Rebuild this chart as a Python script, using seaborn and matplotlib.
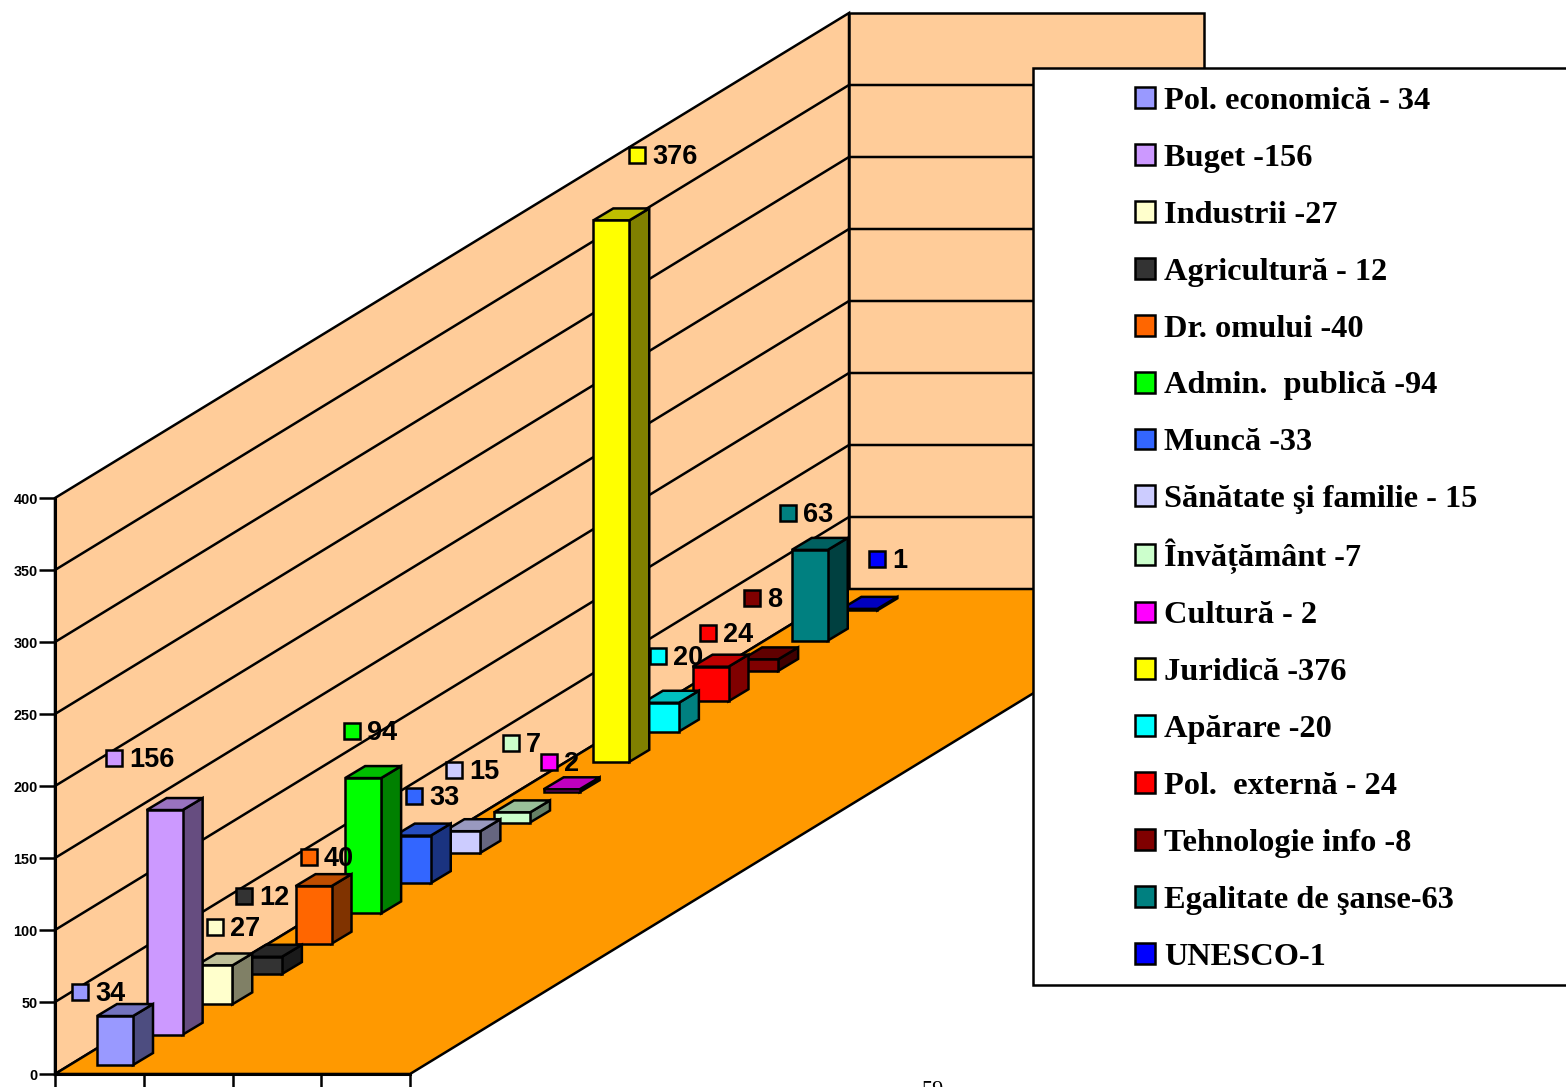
import matplotlib
matplotlib.use("Agg")
import matplotlib.pyplot as plt
from matplotlib.patches import Polygon, Patch, Rectangle
from matplotlib.colors import to_rgb
from matplotlib.transforms import ScaledTranslation
import numpy as np
import pandas as pd
import seaborn as sns

# ---- data ----
categories = ["Pol. economică", "Buget", "Industrii", "Agricultură", "Dr. omului", "Admin. publică",
              "Muncă", "Sănătate şi familie", "Învățământ", "Cultură", "Juridică", "Apărare",
              "Pol. externă", "Tehnologie info", "Egalitate de şanse", "UNESCO"]
values = [34, 156, 27, 12, 40, 94, 33, 15, 7, 2, 376, 20, 24, 8, 63, 1]
legend_labels = ["Pol. economică - 34", "Buget -156", "Industrii -27", "Agricultură - 12", "Dr. omului -40",
                 "Admin.  publică -94", "Muncă -33", "Sănătate şi familie - 15", "Învățământ -7", "Cultură - 2",
                 "Juridică -376", "Apărare -20", "Pol.  externă - 24", "Tehnologie info -8",
                 "Egalitate de şanse-63", "UNESCO-1"]
colors = ["#9999FF", "#CC99FF", "#FFFFCC", "#333333", "#FF6600", "#00FF00", "#3366FF", "#CCCCFF",
          "#CCFFCC", "#FF00FF", "#FFFF00", "#00FFFF", "#FF0000", "#800000", "#008080", "#0000FF"]
y_ticks = [0, 50, 100, 150, 200, 250, 300, 350, 400]

# ---- layout (pixels of the 1566x1087 canvas) ----
W, H = 1566, 1087
PX_PER_UNIT = 1.44
Y0 = 1074
X0 = 55
FLOOR_W = 355
DEPTH_X, DEPTH_Y = 794, 485
N = len(values)
BAR_W = 36
BAR_DX, BAR_DY = 20, 12
marker_xy = [(80, 992), (114, 758), (215, 927), (244, 896), (309, 857), (352, 731), (414, 796), (454, 770),
             (511, 743), (549, 762), (637, 155), (658, 656), (708, 633), (752, 598), (788, 513), (877, 559)]
LW = 1.8


def vy(py):
    return (Y0 - py) / PX_PER_UNIT


sns.set_theme(style="white")
plt.rcParams["font.family"] = ["Liberation Sans", "DejaVu Sans"]

fig = plt.figure(figsize=(W / 100, H / 100), dpi=100, facecolor="white")
ax = fig.add_axes([X0 / W, (H - Y0) / H, (W - X0) / W, Y0 / H])
ax.patch.set_alpha(0)

# bars: front faces through seaborn, positions follow the chart's depth axis
step_x, step_y = DEPTH_X / N, DEPTH_Y / N
pos = [X0 + 42 + BAR_W / 2 + i * step_x for i in range(N)]
base = [vy(1065 - i * step_y) for i in range(N)]
df = pd.DataFrame({"pos": pos, "val": values, "cat": categories})
sns.barplot(data=df, x="pos", y="val", hue="cat", hue_order=categories, palette=colors, dodge=False,
            native_scale=True, width=BAR_W / step_x, saturation=1, errorbar=None, legend=False,
            edgecolor="black", linewidth=LW, ax=ax)

ax.set_xlim(X0, W)
ax.set_ylim(0, vy(0))

dx, dy = BAR_DX, BAR_DY / PX_PER_UNIT
for i, cont in enumerate(ax.containers):
    z = 40 - i
    rgb = np.array(to_rgb(colors[i]))
    for p in cont.patches:
        p.set_y(base[i])
        p.set_zorder(z + 0.2)
        p.set_clip_on(False)
        p.set_joinstyle("miter")
        l, r, b = p.get_x(), p.get_x() + p.get_width(), base[i]
        t = b + p.get_height()
        ax.add_patch(Polygon([(r, b), (r + dx, b + dy), (r + dx, t + dy), (r, t)], closed=True,
                             fc=rgb * 0.5, ec="black", lw=LW, zorder=z, clip_on=False))
        ax.add_patch(Polygon([(l, t), (r, t), (r + dx, t + dy), (l + dx, t + dy)], closed=True,
                             fc=rgb * 0.75, ec="black", lw=LW, zorder=z + 0.1, clip_on=False))

# walls and floor
dep_y = DEPTH_Y / PX_PER_UNIT
top = y_ticks[-1]
ax.add_patch(Polygon([(X0, 0), (X0 + DEPTH_X, dep_y), (X0 + DEPTH_X, top + dep_y), (X0, top)], closed=True,
                     fc="#FFCC99", ec="black", lw=LW, zorder=1, clip_on=False))
ax.add_patch(Polygon([(X0 + DEPTH_X, dep_y), (X0 + DEPTH_X + FLOOR_W, dep_y), (X0 + DEPTH_X + FLOOR_W, top + dep_y),
                      (X0 + DEPTH_X, top + dep_y)], closed=True, fc="#FFCC99", ec="black", lw=LW, zorder=1,
                     clip_on=False))
for v in y_ticks[1:-1]:
    ax.plot([X0, X0 + DEPTH_X, X0 + DEPTH_X + FLOOR_W], [v, v + dep_y, v + dep_y], color="black", lw=LW,
            zorder=2, clip_on=False)
ax.add_patch(Polygon([(X0, 0), (X0 + FLOOR_W, 0), (X0 + FLOOR_W + DEPTH_X, dep_y), (X0 + DEPTH_X, dep_y)],
                     closed=True, fc="#FF9900", ec="black", lw=LW, zorder=3, clip_on=False))

# real axes
for s in ["top", "right"]:
    ax.spines[s].set_visible(False)
ax.spines["left"].set_bounds(0, top)
ax.spines["bottom"].set_bounds(X0, X0 + FLOOR_W)
for s in ["left", "bottom"]:
    ax.spines[s].set_linewidth(2.2)
    ax.spines[s].set_color("black")
    ax.spines[s].set_zorder(5)
ax.set_yticks(y_ticks)
ax.set_yticklabels([str(v) for v in y_ticks], fontsize=10.4, fontweight="bold", color="black")
nudge = ScaledTranslation(0, 1 / 100, fig.dpi_scale_trans)
for t in ax.get_yticklabels():
    t.set_verticalalignment("center_baseline")
    t.set_transform(t.get_transform() + nudge)
ax.set_xticks([X0 + FLOOR_W * k / 4 for k in range(5)])
ax.set_xticklabels([])
ax.set_xlabel("")
ax.set_ylabel("")
ax.tick_params(axis="y", length=11.5, width=LW, color="black", left=True, pad=1)
ax.tick_params(axis="x", length=11.5, width=LW, color="black", bottom=True)

# data labels (square key + value)
for i, (mx, my) in enumerate(marker_xy):
    ax.plot([mx], [vy(my)], marker="s", ms=11.2, mfc=colors[i], mec="black", mew=LW, zorder=60, clip_on=False)
    ax.annotate(str(values[i]), (mx, vy(my)), xytext=(mx + 15, vy(my + 2)), textcoords="data", fontsize=19.5,
                fontweight="bold", color="black", va="center", ha="left", zorder=61)

# legend: two stacked blocks, so the tall "Î" row keeps the same row pitch
ax.add_patch(Rectangle((1033, vy(985)), 700, vy(68) - vy(985), fc="white", ec="black", lw=LW, zorder=80,
                       clip_on=False))
handles = [Patch(fc=c, ec="black", lw=LW) for c in colors]
FS = 23.3
SPLIT = 8


def make_legend(idx, top_px):
    leg = ax.legend([handles[k] for k in idx], [legend_labels[k] for k in idx], loc="upper left",
                    bbox_to_anchor=(1135, vy(top_px)), bbox_transform=ax.transData, frameon=False, borderpad=0,
                    borderaxespad=0, handlelength=20 * 0.72 / FS, handleheight=20 * 0.72 / FS,
                    handletextpad=9 * 0.72 / FS, labelspacing=0.862,
                    prop={"family": "Liberation Serif", "weight": "bold", "size": FS})
    leg.set_zorder(81)
    for t in leg.get_texts():
        t.set_color("black")
    return leg


leg_a = make_legend(range(SPLIT), 87)
ax.add_artist(leg_a)
leg_b = make_legend(range(SPLIT, N), 538)

# page number, cut by the canvas edge
ax.text(933, vy(1081), "59", fontsize=16, family="Liberation Serif", ha="center", va="top", color="black",
        zorder=90, clip_on=False)

fig.savefig("out.png", dpi=100, facecolor="white")
